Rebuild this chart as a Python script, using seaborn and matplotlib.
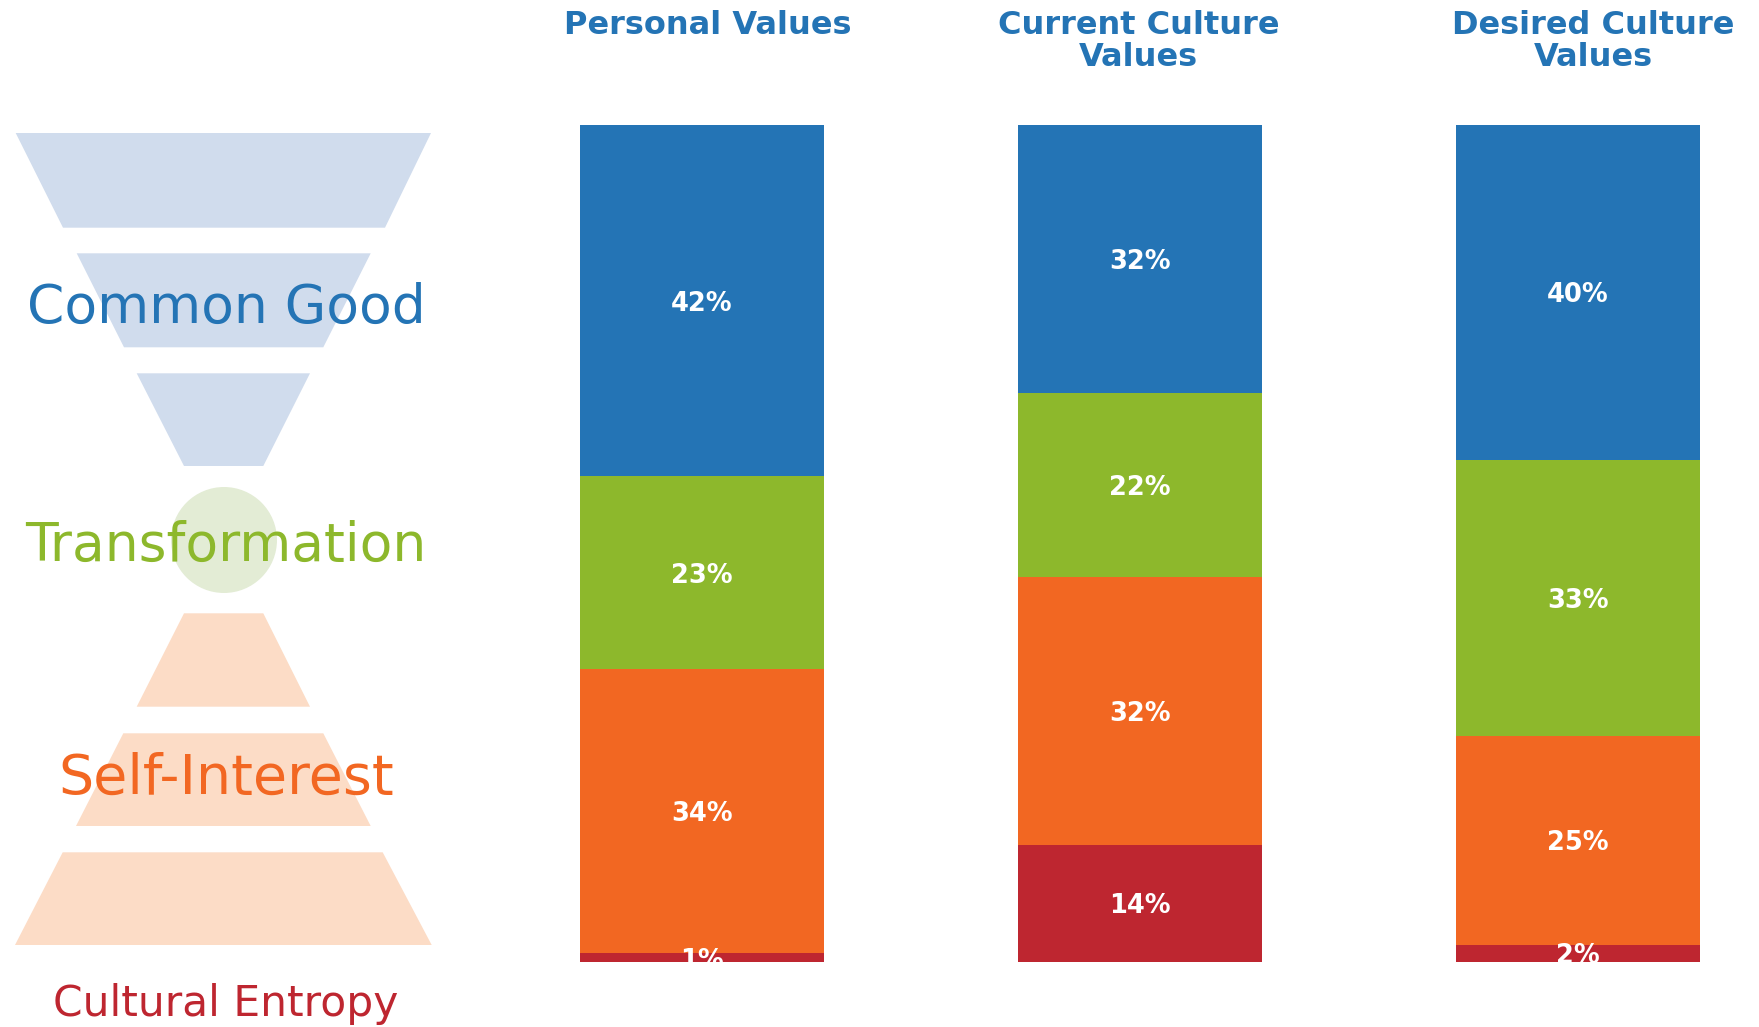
import matplotlib
matplotlib.use("Agg")
import matplotlib.pyplot as plt
from matplotlib.patches import Polygon, Circle
import numpy as np
import pandas as pd
import seaborn as sns

# ---------------- data ----------------
categories = ["Personal Values", "Current Culture\nValues", "Desired Culture\nValues"]
common_good = [42, 32, 40]
transformation = [23, 22, 33]
self_interest = [34, 32, 25]
cultural_entropy = [1, 14, 2]

level_names = ["Common Good", "Transformation", "Self-Interest", "Cultural Entropy"]

# ---------------- style ----------------
sns.set_theme(style="white")
plt.rcParams["font.family"] = ["DejaVu Sans"]

BLUE = "#2474b5"
GREEN = "#8db82c"
ORANGE = "#f26722"
RED = "#be2630"
LIGHT_BLUE = "#d0dced"
LIGHT_GREEN = "#e3ecd5"
LIGHT_ORANGE = "#fcdcc6"

W, H = 1759, 1027
fig = plt.figure(figsize=(W / 100, H / 100), dpi=100)
fig.patch.set_facecolor("white")

# ---------------- left decorative funnel ----------------
axl = fig.add_axes([0, 0, 1, 1], zorder=0)
axl.set_xlim(0, W)
axl.set_ylim(H, 0)
axl.axis("off")

trapezoids = [
    ([(15.7, 133), (431, 133), (385, 227.7), (63, 227.7)], LIGHT_BLUE),
    ([(76.7, 253.3), (370.7, 253.3), (323.3, 347.3), (124, 347.3)], LIGHT_BLUE),
    ([(136.7, 373.3), (310, 373.3), (263.3, 466), (184, 466)], LIGHT_BLUE),
    ([(184, 613.3), (263.3, 613.3), (310, 706.7), (136.7, 706.7)], LIGHT_ORANGE),
    ([(123.3, 733.3), (323.3, 733.3), (370.7, 826), (76, 826)], LIGHT_ORANGE),
    ([(62.7, 852.3), (382.7, 852.3), (431.7, 945), (15, 945)], LIGHT_ORANGE),
]
for pts, col in trapezoids:
    axl.add_patch(Polygon(pts, closed=True, facecolor=col, edgecolor="none"))
axl.add_patch(Circle((224, 540), 53, facecolor=LIGHT_GREEN, edgecolor="none"))

level_colors = [BLUE, GREEN, ORANGE, RED]
level_baselines = [323, 561, 794, 1016]
level_sizes = [38.5, 38.5, 40, 30.5]
for name, col, yb, fs in zip(level_names, level_colors, level_baselines, level_sizes):
    axl.text(226, yb, name, color=col, fontsize=fs, ha="center", va="baseline")

# ---------------- stacked bars ----------------
df = pd.DataFrame({
    "category": categories,
    "Common Good": common_good,
    "Transformation": transformation,
    "Self-Interest": self_interest,
    "Cultural Entropy": cultural_entropy,
})
stack_order = ["Cultural Entropy", "Self-Interest", "Transformation", "Common Good"]
stack_colors = {"Common Good": BLUE, "Transformation": GREEN,
                "Self-Interest": ORANGE, "Cultural Entropy": RED}
cum = df[stack_order].cumsum(axis=1)

ax = fig.add_axes([570.6 / W, (H - 961.7) / H, (1709.4 - 570.6) / W, (961.7 - 125) / H], zorder=1)
ax.patch.set_alpha(0)

# draw tallest cumulative first, then overlay shorter ones
for lvl in reversed(stack_order):
    sns.barplot(x=df["category"], y=cum[lvl], color=stack_colors[lvl],
                width=0.558, saturation=1, linewidth=0, ax=ax, order=categories)

ax.set_xlim(-0.3, 2.3)
ax.set_ylim(0, 100)
ax.axis("off")

for i, cat in enumerate(categories):
    for lvl in stack_order:
        val = df.loc[i, lvl]
        top = cum.loc[i, lvl]
        ax.annotate(f"{val}%", xy=(i, top - val / 2), xytext=(0, -2.2),
                    textcoords="offset points", color="white", fontsize=18.5,
                    fontweight="bold", ha="center", va="center",
                    annotation_clip=False).set_clip_on(True)

# column titles (baseline of the last line)
title_x = [707.5, 1138.6, 1593]
for cat, tx in zip(categories, title_x):
    n_lines = cat.count("\n") + 1
    yb = 34 + 31.5 * (n_lines - 1)
    fig.text(tx / W, (H - yb) / H, cat, color=BLUE, fontsize=23, fontweight="bold",
             ha="center", va="baseline", linespacing=1.0)

fig.savefig("out.png", dpi=100, facecolor="white")
